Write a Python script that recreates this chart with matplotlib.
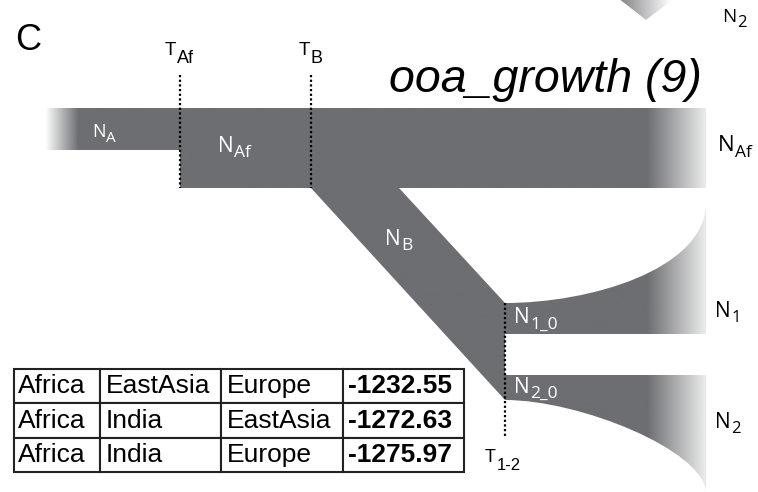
import numpy as np
import matplotlib
matplotlib.use("Agg")
import matplotlib.pyplot as plt
from matplotlib.path import Path
from matplotlib.patches import PathPatch

# table of best-scoring population triples and their log-likelihoods
pop_1 = ["Africa", "Africa", "Africa"]
pop_2 = ["EastAsia", "India", "India"]
pop_3 = ["Europe", "EastAsia", "Europe"]
log_lik = [-1232.55, -1272.63, -1275.97]

model_name = "ooa_growth (9)"
panel_tag = "C"

W, H = 758, 492
GRAY = np.array([0x6d, 0x6e, 0x71]) / 255.0
SANS = "Liberation Sans"
LABEL = "Open Sans"

fig = plt.figure(figsize=(W / 100, H / 100), dpi=100)
ax = fig.add_axes([0, 0, 1, 1])
ax.set_xlim(0, W)
ax.set_ylim(H, 0)
ax.axis("off")

xs = np.linspace(0, W, W + 1)


def main_alpha(x):
    # fade in at the ancestral end, fade out towards present day
    a_in = np.clip((x - 45) / 33.0, 0, 1)
    a_out = 1 - 0.85 * np.clip((x - 648) / 57.0, 0, 1)
    return a_in * a_out * (x <= 706)


def corner_alpha(x):
    return 0.85 * np.clip(1 - (x - 620) / 52.0, 0, 1)


def shaded(path, alpha_fn):
    patch = PathPatch(path, facecolor="none", edgecolor="none")
    ax.add_patch(patch)
    img = np.zeros((1, xs.size, 4))
    img[..., :3] = GRAY
    img[..., 3] = alpha_fn(xs)
    im = ax.imshow(img, extent=(0, W, H, 0), aspect="auto",
                   interpolation="bilinear", zorder=1)
    im.set_clip_path(patch)


M, L, C, Z = Path.MOVETO, Path.LINETO, Path.CURVE4, Path.CLOSEPOLY

# ancestral population N_A
shaded(Path([(40, 108), (181, 108), (181, 150), (40, 150), (40, 108)],
            [M, L, L, L, Z]), main_alpha)

# N_Af, the N_B bottleneck and the two growing daughter populations
body = [
    ((180, 108), M), ((706, 108), L), ((706, 188), L), ((399, 188), L),
    ((505, 303), L),
    ((590, 303), C), ((703, 270), C), ((706, 205), C),
    ((706, 334), L), ((505, 334), L), ((505, 375), L), ((706, 375), L),
    ((706, 492), L),
    ((703, 450), C), ((580, 400), C), ((505, 400), C),
    ((311, 188), L), ((180, 188), L), ((180, 108), Z),
]
shaded(Path([p for p, _ in body], [c for _, c in body]), main_alpha)

# tail of the neighbouring panel's N_2 branch
shaded(Path([(618, -2), (646, 20), (675, -2), (618, -2)], [M, L, L, Z]),
       corner_alpha)

# split times
dots = dict(color="black", linestyle=(0, (1, 1.1)), linewidth=1.6, zorder=3)
ax.plot([180, 180], [75, 188], **dots)
ax.plot([311, 311], [75, 188], **dots)
ax.plot([505, 505], [303, 438], **dots)

renderer = fig.canvas.get_renderer()


def label(x, y, main, sub, size, sub_size, drop, color="black", family=SANS):
    t = ax.text(x, y, main, fontsize=size, color=color, family=family,
                ha="left", va="baseline", zorder=4)
    bb = t.get_window_extent(renderer).transformed(ax.transData.inverted())
    ax.text(bb.x1 + 0.5, y + drop, sub, fontsize=sub_size, color=color,
            family=family, ha="left", va="baseline", zorder=4)


ax.text(15, 50, panel_tag, fontsize=26, family=SANS, va="baseline")
ax.text(702, 92, model_name, fontsize=33.5, family=SANS, style="italic",
        ha="right", va="baseline")

label(165, 55, "T", "Af", 13.5, 13, 8)
label(299, 55, "T", "B", 13.5, 13, 8)
label(485, 462, "T", "1-2", 13, 12, 8)

label(92, 137, "N", "A", 13, 11, 5, color="white", family=LABEL)
label(218, 152, "N", "Af", 15, 12.5, 5, color="white", family=LABEL)
label(385, 245, "N", "B", 15, 12.5, 5, color="white", family=LABEL)
label(514, 323, "N", "1_0", 15, 12.5, 6, color="white", family=LABEL)
label(514, 393, "N", "2_0", 15, 12.5, 5, color="white", family=LABEL)

label(718, 151, "N", "Af", 16, 12.5, 6, family=LABEL)
label(715, 317, "N", "1", 15, 12, 5, family=LABEL)
label(715, 428, "N", "2", 15, 12, 5, family=LABEL)
label(722, 22, "N", "2", 13.5, 12, 5, family=LABEL)

# likelihood table
cells = [[a, b, c, f"{v:.2f}"] for a, b, c, v in zip(pop_1, pop_2, pop_3, log_lik)]
col_w = [86, 121, 122, 121]
x0, y_top, y_bot = 14, 369, 472
tbl = ax.table(cellText=cells, colWidths=[w / sum(col_w) for w in col_w],
               cellLoc="left",
               bbox=[x0 / W, 1 - y_bot / H, sum(col_w) / W, (y_bot - y_top) / H])
tbl.auto_set_font_size(False)
for (r, c), cell in tbl.get_celld().items():
    cell.set_linewidth(1.5)
    cell.set_edgecolor("#222222")
    cell.PAD = 0.05
    txt = cell.get_text()
    txt.set_fontsize(19)
    txt.set_family(SANS)
    if c == 3:
        txt.set_fontweight("bold")
        cell.PAD = 0.04

fig.savefig("out.png", dpi=100)
